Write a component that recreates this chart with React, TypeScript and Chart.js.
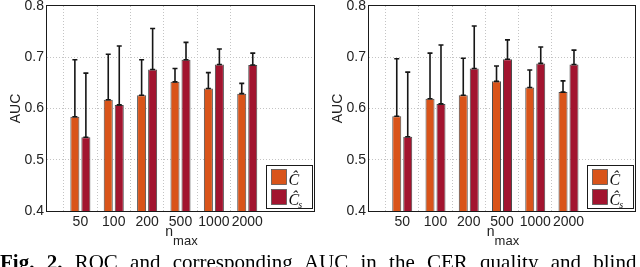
import React, { useEffect, useRef } from 'react';
import { Chart, registerables } from 'chart.js';

Chart.register(...registerables);

// ---- data ----
const categories = ['50', '100', '200', '500', '1000', '2000'];

const leftC = [0.584, 0.617, 0.626, 0.652, 0.639, 0.629];
const leftCUpper = [0.695, 0.706, 0.695, 0.678, 0.670, 0.649];
const leftCs = [0.544, 0.607, 0.676, 0.695, 0.686, 0.685];
const leftCsUpper = [0.669, 0.722, 0.756, 0.729, 0.716, 0.708];

const rightC = [0.585, 0.619, 0.626, 0.653, 0.641, 0.632];
const rightCUpper = [0.697, 0.708, 0.698, 0.683, 0.675, 0.654];
const rightCs = [0.545, 0.609, 0.678, 0.696, 0.688, 0.686];
const rightCsUpper = [0.671, 0.724, 0.761, 0.734, 0.720, 0.714];

const yMin = 0.4;
const yMax = 0.8;
const yStep = 0.1;

const legendLabels = ['Ĉ', 'Ĉ'];
const legendSubs = ['', 's'];
const yTitle = 'AUC';
const xTitleMain = 'n';
const xTitleSub = 'max';
const captionBold = 'Fig. 2.';
const captionText = 'ROC and corresponding AUC in the CER quality and blind';

const ORANGE = '#D9541A';
const CRIMSON = '#A2142F';
const SANS = "'Liberation Sans', Arial, sans-serif";
const SERIF = "'Liberation Serif', 'Times New Roman', serif";

const errorBars = {
  id: 'errorBars',
  afterDatasetsDraw(chart: any) {
    const ctx = chart.ctx;
    const ys = chart.scales.y;
    ctx.save();
    ctx.strokeStyle = '#161616';
    ctx.lineWidth = 1.6;
    chart.data.datasets.forEach((ds: any, di: number) => {
      const meta = chart.getDatasetMeta(di);
      meta.data.forEach((el: any, i: number) => {
        const v = ds.data[i];
        const up = ds.upper ? ds.upper[i] : null;
        if (v == null || up == null) return;
        const x = el.x;
        const y0 = ys.getPixelForValue(v);
        const y1 = ys.getPixelForValue(up);
        ctx.beginPath();
        ctx.moveTo(x, y0);
        ctx.lineTo(x, y1);
        ctx.moveTo(x - 2.5, y1);
        ctx.lineTo(x + 2.5, y1);
        ctx.moveTo(x - 2.5, y0);
        ctx.lineTo(x + 2.5, y0);
        ctx.stroke();
      });
    });
    ctx.restore();
  },
};

const frameAndLegend = {
  id: 'frameAndLegend',
  afterDraw(chart: any) {
    const ctx = chart.ctx;
    const ca = chart.chartArea;
    ctx.save();
    // axes box
    ctx.strokeStyle = '#1a1a1a';
    ctx.lineWidth = 1;
    ctx.strokeRect(Math.round(ca.left) - 0.5, Math.round(ca.top) - 0.5, Math.round(ca.right - ca.left) + 1, Math.round(ca.bottom - ca.top) + 1);

    // legend
    const right = Math.round(ca.right) - 1.5;
    const left = right - 46;
    const bottom = Math.round(ca.bottom) - 2.5;
    const top = bottom - 43;
    ctx.fillStyle = '#fff';
    ctx.fillRect(left, top, right - left, bottom - top);
    ctx.strokeStyle = '#1a1a1a';
    ctx.strokeRect(left, top, right - left, bottom - top);
    chart.data.datasets.forEach((ds: any, i: number) => {
      const sy = top + 4 + i * 20;
      ctx.fillStyle = ds.backgroundColor;
      ctx.fillRect(left + 5, sy, 15, 15);
      ctx.strokeStyle = '#555';
      ctx.lineWidth = 0.8;
      ctx.strokeRect(left + 5, sy, 15, 15);
      ctx.fillStyle = '#111';
      ctx.textAlign = 'left';
      ctx.textBaseline = 'alphabetic';
      ctx.font = `italic 16px ${SERIF}`;
      ctx.fillText(legendLabels[i], left + 22, sy + 15);
      if (legendSubs[i]) {
        const w = ctx.measureText(legendLabels[i]).width;
        ctx.font = `italic 10px ${SERIF}`;
        ctx.fillText(legendSubs[i], left + 22 + w - 1, sy + 18);
      }
    });

    // axis titles
    ctx.fillStyle = '#222';
    ctx.font = `14px ${SANS}`;
    ctx.textAlign = 'center';
    ctx.textBaseline = 'middle';
    ctx.save();
    ctx.translate(ca.left - 31, (ca.top + ca.bottom) / 2);
    ctx.rotate(-Math.PI / 2);
    ctx.fillText(yTitle, 0, 0);
    ctx.restore();

    const cx = (ca.left + ca.right) / 2;
    ctx.textAlign = 'left';
    ctx.textBaseline = 'alphabetic';
    ctx.font = `14px ${SANS}`;
    const wn = ctx.measureText(xTitleMain).width;
    ctx.font = `13px ${SANS}`;
    const wm = ctx.measureText(xTitleSub).width;
    const x0 = cx - (wn + wm) / 2 + 1;
    ctx.font = `14px ${SANS}`;
    ctx.fillText(xTitleMain, x0, ca.bottom + 25);
    ctx.font = `13px ${SANS}`;
    ctx.fillText(xTitleSub, x0 + wn, ca.bottom + 34);
    ctx.restore();
  },
};

type PanelProps = {
  c: number[];
  cUp: number[];
  cs: number[];
  csUp: number[];
  plotLeft: number;
  plotRight: number;
  left: number;
};

function Panel({ c, cUp, cs, csUp, plotLeft, plotRight, left }: PanelProps) {
  const ref = useRef<HTMLCanvasElement>(null);
  useEffect(() => {
    if (!ref.current) return;
    const labels = ['', ...categories, '', ''];
    const pad = (a: number[]) => [null, ...a, null, null];
    const gridCol = (ctx: any) => (ctx.index >= 1 && ctx.index <= categories.length ? '#c4c4c4' : 'rgba(0,0,0,0)');
    const chart = new Chart(ref.current, {
      type: 'bar',
      data: {
        labels,
        datasets: [
          {
            label: 'C',
            data: pad(c),
            upper: pad(cUp),
            backgroundColor: ORANGE,
            borderColor: '#4a4a4a',
            borderWidth: 1,
            categoryPercentage: 0.66,
            barPercentage: 0.82,
          } as any,
          {
            label: 'Cs',
            data: pad(cs),
            upper: pad(csUp),
            backgroundColor: CRIMSON,
            borderColor: '#4a4a4a',
            borderWidth: 1,
            categoryPercentage: 0.66,
            barPercentage: 0.82,
          } as any,
        ],
      },
      options: {
        animation: false,
        responsive: false,
        maintainAspectRatio: false,
        layout: { padding: { left: 0, right: 320 - plotRight, top: 6, bottom: 0 } },
        plugins: { legend: { display: false }, tooltip: { enabled: false } },
        scales: {
          x: {
            offset: false,
            grid: { color: gridCol, lineWidth: 1, drawTicks: false },
            border: { display: false, dash: [1, 2] },
            ticks: {
              padding: 3,
              color: '#222',
              font: { family: SANS, size: 14 },
              maxRotation: 0,
              autoSkip: false,
            },
            afterFit: (s: any) => {
              s.height = 56;
              s.paddingLeft = 0;
              s.paddingRight = 0;
            },
          },
          y: {
            min: yMin,
            max: yMax,
            grid: {
              color: (ctx: any) => (ctx.tick && (ctx.tick.value <= yMin + 1e-9 || ctx.tick.value >= yMax - 1e-9) ? 'rgba(0,0,0,0)' : '#c4c4c4'),
              drawTicks: false,
            },
            border: { display: false, dash: [1, 2] },
            ticks: {
              stepSize: yStep,
              padding: 3,
              color: '#222',
              font: { family: SANS, size: 14 },
              callback: (v: any) => Number(v).toFixed(1),
            },
            afterFit: (s: any) => {
              s.width = plotLeft;
              s.paddingTop = 0;
              s.paddingBottom = 0;
            },
          },
        },
      } as any,
      plugins: [errorBars, frameAndLegend],
    });
    return () => chart.destroy();
  }, []);
  return (
    <canvas
      ref={ref}
      width={320}
      height={267}
      style={{ position: 'absolute', left, top: 0, width: 320, height: 267, display: 'block' }}
    />
  );
}

export default function App() {
  return (
    <div style={{ position: 'absolute', left: 0, top: 0, width: 640, height: 267, overflow: 'hidden', background: '#fff' }}>
      <Panel c={leftC} cUp={leftCUpper} cs={leftCs} csUp={leftCsUpper} plotLeft={47} plotRight={314} left={0} />
      <Panel c={rightC} cUp={rightCUpper} cs={rightCs} csUp={rightCsUpper} plotLeft={49} plotRight={315} left={320} />
      <div
        style={{
          position: 'absolute',
          left: 0,
          top: 250,
          whiteSpace: 'nowrap',
          fontFamily: SERIF,
          fontSize: 21,
          lineHeight: '24px',
          wordSpacing: 7,
          color: '#000',
        }}
      >
        <b>{captionBold}</b> {captionText}
      </div>
    </div>
  );
}
